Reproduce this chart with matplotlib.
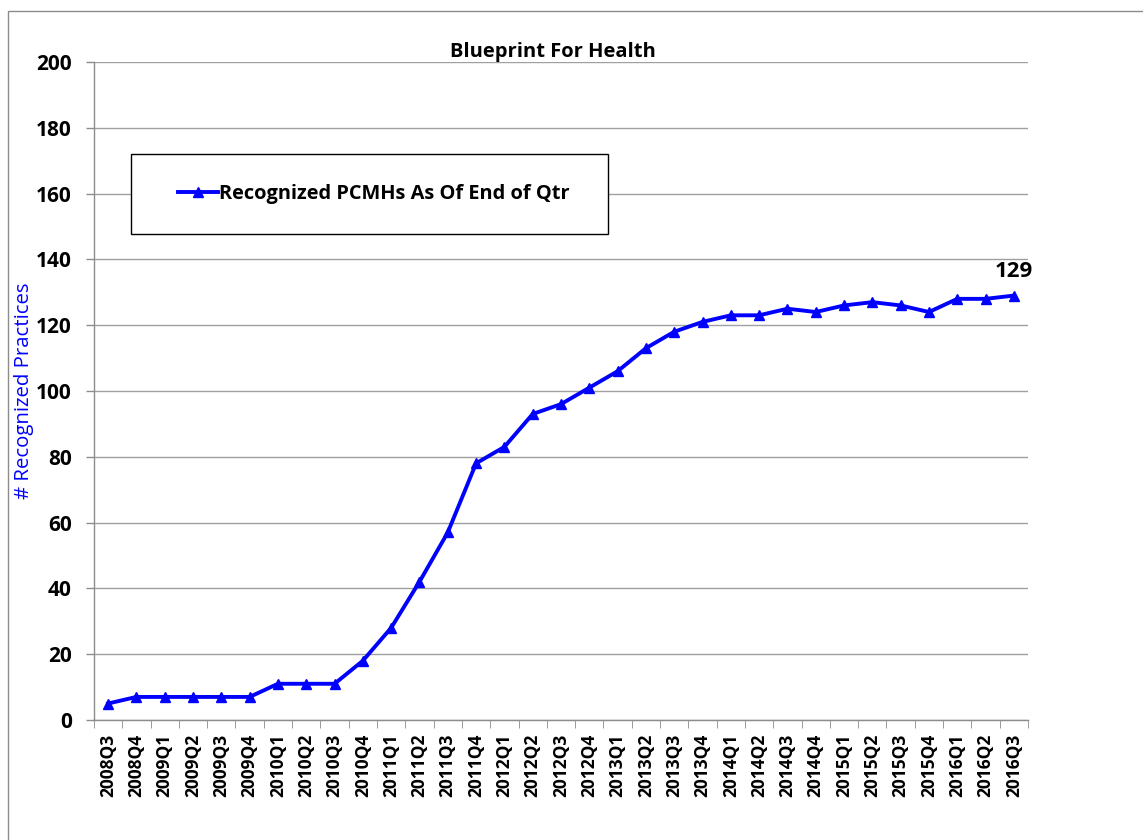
import matplotlib
matplotlib.use('Agg')
import matplotlib.pyplot as plt
from matplotlib.patches import Rectangle
import numpy as np

plt.rcParams['font.family'] = ['Open Sans', 'DejaVu Sans']

quarters = ['2008Q3', '2008Q4', '2009Q1', '2009Q2', '2009Q3', '2009Q4',
            '2010Q1', '2010Q2', '2010Q3', '2010Q4', '2011Q1', '2011Q2',
            '2011Q3', '2011Q4', '2012Q1', '2012Q2', '2012Q3', '2012Q4',
            '2013Q1', '2013Q2', '2013Q3', '2013Q4', '2014Q1', '2014Q2',
            '2014Q3', '2014Q4', '2015Q1', '2015Q2', '2015Q3', '2015Q4',
            '2016Q1', '2016Q2', '2016Q3']
practices = [5, 7, 7, 7, 7, 7, 11, 11, 11, 18, 28, 42, 57, 78, 83, 93, 96, 101,
             106, 113, 118, 121, 123, 123, 125, 124, 126, 127, 126, 124, 128, 128, 129]
y_ticks = [0, 20, 40, 60, 80, 100, 120, 140, 160, 180, 200]

fig = plt.figure(figsize=(11.43, 8.4), dpi=100)
ax = fig.add_axes([0.0822, 0.1429, 0.8172, 0.7833])

# outer border of the chart area
fig.patches.append(Rectangle((8 / 1143, -0.05), 1.2, 1.05 - 11 / 840, transform=fig.transFigure,
                             fill=False, edgecolor='#8C8C8C', lw=1.0))

x = np.arange(len(quarters))
ax.plot(x, practices, '-^', color='#0000FF', lw=2.8, ms=7.5, label='Recognized PCMHs As Of End of Qtr',
        zorder=5, clip_on=False)

ax.set_xlim(-0.5, len(quarters) - 0.5)
ax.set_ylim(0, 200)
ax.set_yticks(y_ticks)
ax.set_yticklabels([str(v) for v in y_ticks], fontsize=15, fontweight='bold')
ax.set_xticks(x)
ax.set_xticklabels(quarters, rotation=90, fontsize=12.5, fontweight='bold')
ax.set_xticks(np.arange(-0.5, len(quarters)), minor=True)
ax.tick_params(axis='x', which='major', length=0, pad=10)
ax.tick_params(axis='x', which='minor', length=6, color='#8C8C8C', direction='out')
ax.tick_params(axis='y', length=6, color='#8C8C8C', width=1, pad=10)

ax.grid(True, axis='y', color='#A0A0A0', lw=1.0)
ax.set_axisbelow(True)
for s in ['top', 'right']:
    ax.spines[s].set_visible(False)
for s in ['left', 'bottom']:
    ax.spines[s].set_color('#8C8C8C')
    ax.spines[s].set_linewidth(1.0)

ax.set_ylabel('# Recognized Practices', color='#0000FF', fontsize=14.7)
ax.yaxis.set_label_coords(-0.064, 0.5)

fig.text(553 / 1143, 1 - 52 / 840, 'Blueprint For Health', ha='center', va='center',
         fontsize=14.5, fontweight='bold')

ax.annotate(str(practices[-1]), (x[-1], practices[-1]), xytext=(0, 10),
            textcoords='offset points', ha='center', va='bottom', fontsize=16, fontweight='bold')

# legend box
ax.add_patch(Rectangle((0.0396, 0.739), 0.5107, 0.121, transform=ax.transAxes,
                       fill=False, edgecolor='black', lw=1.0, zorder=6))
ax.add_patch(Rectangle((0.0396, 0.739), 0.5107, 0.121, transform=ax.transAxes,
                       facecolor='white', edgecolor='none', zorder=4))
ax.legend(loc='center left', bbox_to_anchor=(0.081, 0.80), frameon=False,
          handlelength=2.0, handletextpad=0.05, borderaxespad=0,
          prop={'size': 14.4, 'weight': 'bold'})

fig.savefig('out.png', dpi=100, facecolor='white')
